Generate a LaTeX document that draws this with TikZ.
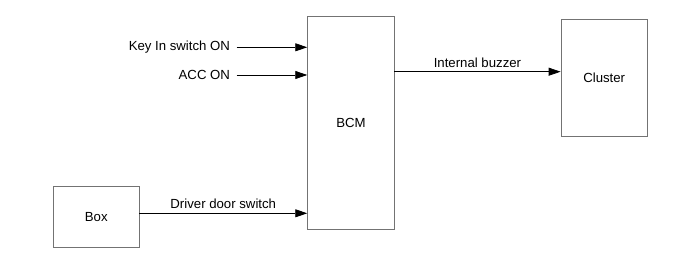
\documentclass[tikz,border=0pt]{standalone}
\usepackage{fontspec}
\setmainfont{Liberation Sans}
\usetikzlibrary{arrows.meta}
\begin{document}
\begin{tikzpicture}[x=1pt, y=-1pt,
  block/.style={draw=black!55, line width=0.9pt, inner sep=0pt},
  arrow/.style={-{Triangle[length=12pt, width=8pt]}, line width=0.8pt},
  lbl/.style={font=\fontsize{13.2}{15}\selectfont}
]
\useasboundingbox (0,0) rectangle (700,264);
\node[block, lbl, minimum width=86.6pt, minimum height=213pt] (bcm) at (351,122.5) {BCM};
\node[block, lbl, minimum width=86.3pt, minimum height=117.4pt] (cluster) at (604.2,78) {Cluster};
\node[block, lbl, minimum width=86pt, minimum height=61.3pt] (box) at (96.3,216.7) {Box};
\coordinate (keyin) at (236.7,47.3);
\coordinate (acc) at (236.7,75);
\coordinate (buzz) at (394.3,71.7);
\coordinate (door) at (139.3,213.3);
\draw[arrow] (keyin) -- (keyin -| bcm.west);
\node[lbl, anchor=east, inner sep=0pt] (keyinlbl) at ([xshift=-6.5pt]keyin) {Key In switch ON};
\draw[arrow] (acc) -- (acc -| bcm.west);
\node[lbl, anchor=east, inner sep=0pt] (acclbl) at ([xshift=-6.5pt]acc) {ACC ON};
\draw[arrow] (buzz) -- (buzz -| cluster.west) node[lbl, midway, above, inner sep=4pt] {Internal buzzer};
\draw[arrow] (door) -- (door -| bcm.west) node[lbl, midway, above, inner sep=4pt] {Driver door switch};
\end{tikzpicture}
\end{document}
